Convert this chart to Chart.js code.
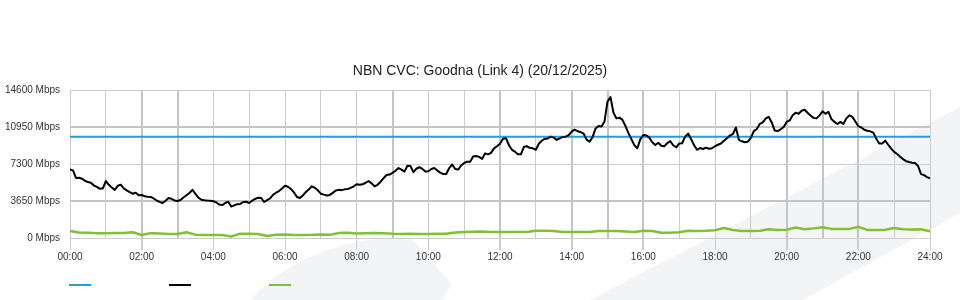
<!DOCTYPE html>
<html>
<head>
<meta charset="utf-8">
<title>NBN CVC: Goodna (Link 4)</title>
<script src="https://cdn.jsdelivr.net/npm/chart.js@4.4.1/dist/chart.umd.min.js"></script>
<style>
  html, body { margin: 0; padding: 0; background: #fff; }
  #wrap { width: 960px; height: 300px; }
</style>
</head>
<body>
<div id="wrap"><canvas id="myChart" width="960" height="300"></canvas></div>
<script>
// traffic sampled every 5 minutes, green series every 15 minutes (Mbps)
const stepTraffic = 5;
const stepGreen = 15;
const capacityMbps = 10000;
const yTicks = [0, 3650, 7300, 10950, 14600];
const hourLabels = ['00:00', '02:00', '04:00', '06:00', '08:00', '10:00', '12:00',
  '14:00', '16:00', '18:00', '20:00', '22:00', '24:00'];

const traffic = [
  6750, 6670, 5920, 5950, 5850, 5650, 5520, 5450, 5180, 5050,
  4850, 4900, 5620, 5250, 4980, 4750, 5150, 5260, 4900, 4700,
  4520, 4370, 4470, 4220, 4250, 4120, 4080, 4050, 3900, 3700,
  3560, 3450, 3680, 3950, 3870, 3700, 3650, 3750, 4000, 4220,
  4440, 4750, 4350, 3980, 3770, 3730, 3700, 3680, 3630, 3500,
  3300, 3250, 3450, 3580, 3100, 3220, 3340, 3360, 3550, 3580,
  3450, 3680, 3850, 3980, 3950, 3550, 3730, 3900, 4250, 4470,
  4630, 4880, 5150, 5050, 4830, 4500, 4050, 3950, 4200, 4540,
  4800, 5100, 4950, 4700, 4370, 4280, 4200, 4250, 4450, 4680,
  4750, 4720, 4800, 4830, 4950, 5100, 5300, 5250, 5300, 5450,
  5620, 5390, 5100, 5250, 5550, 5900, 6210, 6260, 6420, 6640,
  6900, 6750, 6550, 7130, 7100, 6500, 6830, 6980, 6820, 6550,
  6580, 6800, 6900, 6650, 6450, 6310, 6310, 6900, 7250, 6800,
  6750, 7150, 7400, 7530, 7530, 8040, 8090, 8000, 7800, 8350,
  8250, 8400, 8840, 9050, 9300, 9800, 9850, 9150, 8700, 8520,
  8250, 8250, 9000, 9050, 8900, 8850, 8700, 9300, 9600, 9770,
  9820, 10000, 9900, 9680, 9830, 9970, 10000, 10150, 10500, 10700,
  10530, 10450, 10300, 9700, 9500, 9950, 10810, 11050, 11000, 11500,
  13450, 13900, 12350, 11800, 11870, 11650, 11050, 10350, 9750, 9150,
  8850, 9750, 10160, 10120, 9900, 9450, 9170, 9400, 9100, 9050,
  9350, 9560, 9150, 8950, 9320, 9350, 10000, 10300, 9750, 9150,
  8700, 8880, 8780, 8920, 8800, 8850, 9050, 9200, 9320, 9600,
  9850, 10100, 10260, 10900, 9680, 9540, 9450, 9500, 9870, 10550,
  10750, 11250, 11400, 11800, 11950, 11400, 10600, 10550, 10720, 10950,
  11450, 11600, 12100, 12350, 12250, 12550, 12650, 12350, 12080, 11850,
  11800, 12100, 12500, 12250, 12450, 11730, 11450, 11250, 11450, 11240,
  11800, 12100, 11950, 11500, 11030, 10900, 10680, 10580, 10520, 10400,
  9800, 9330, 9330, 9600, 9200, 8820, 8500, 8280, 8020, 7780,
  7580, 7500, 7430, 7400, 7100, 6300, 6200, 6000, 5880
];

const green = [
  690, 540, 520, 480, 460, 500, 500, 560, 300, 480,
  450, 400, 400, 560, 330, 300, 300, 300, 150, 430,
  430, 400, 200, 330, 350, 300, 300, 310, 350, 310,
  500, 520, 440, 480, 490, 470, 420, 400, 410, 400,
  400, 410, 420, 540, 580, 610, 630, 600, 590, 590,
  590, 600, 720, 720, 700, 590, 590, 590, 600, 690,
  680, 690, 650, 590, 720, 690, 520, 520, 560, 720,
  700, 720, 760, 980, 780, 690, 690, 720, 870, 790,
  820, 1030, 860, 950, 1050, 900, 890, 900, 1100, 800,
  790, 820, 990, 860, 850, 870, 660
];

const colors = { capacity: '#1ba1e2', traffic: '#000000', green: '#7fc132' };
const lightGrid = '#cccccc';
const heavyGrid = '#c4c4c4';
const heavyHours = [2, 3, 9, 12, 14, 15, 16, 20, 21, 22];
const heavyValues = [3650, 10950];
const fontFamily = '"Liberation Sans", Arial, Helvetica, sans-serif';

function toPoints(values, stepMinutes) {
  return values.map((v, i) => ({ x: i * stepMinutes / 60, y: v }));
}

function hourLabel(value) {
  if (value % 2 !== 0) return '';
  return hourLabels[value / 2];
}

// faint watermark shapes behind the plot
const backdrop = {
  id: 'backdrop',
  beforeDraw(chart) {
    const c = chart.ctx;
    c.save();
    c.fillStyle = '#ffffff';
    c.fillRect(0, 0, chart.width, chart.height);
    c.fillStyle = '#f3f4f6';
    c.beginPath();
    c.moveTo(250, 300);
    c.quadraticCurveTo(300, 246, 385, 238);
    c.lineTo(412, 239);
    c.lineTo(452, 284);
    c.lineTo(442, 300);
    c.closePath();
    c.fill();
    c.beginPath();
    c.moveTo(590, 300);
    c.lineTo(960, 107);
    c.lineTo(960, 213);
    c.lineTo(803, 300);
    c.closePath();
    c.fill();
    c.restore();
  }
};

// legend: coloured swatches only, no text
const swatches = {
  id: 'swatches',
  afterDraw(chart) {
    const c = chart.ctx;
    c.save();
    ['capacity', 'traffic', 'green'].forEach((key, i) => {
      c.fillStyle = colors[key];
      c.fillRect(69 + i * 100, 284, 22, 2);
    });
    c.restore();
  }
};

const ctx = document.getElementById('myChart').getContext('2d');
new Chart(ctx, {
  type: 'line',
  data: {
    datasets: [
      {
        label: '',
        data: [{ x: 0, y: capacityMbps }, { x: 24, y: capacityMbps }],
        borderColor: colors.capacity,
        backgroundColor: colors.capacity,
        borderWidth: 2,
        order: 1
      },
      {
        label: '',
        data: toPoints(traffic, stepTraffic),
        borderColor: colors.traffic,
        backgroundColor: colors.traffic,
        borderWidth: 2,
        order: 0
      },
      {
        label: '',
        data: toPoints(green, stepGreen),
        borderColor: colors.green,
        backgroundColor: colors.green,
        borderWidth: 2.5,
        order: 2
      }
    ]
  },
  options: {
    responsive: false,
    animation: false,
    layout: { padding: 0 },
    elements: {
      point: { radius: 0, hoverRadius: 0 },
      line: { tension: 0, fill: false, borderJoinStyle: 'round' }
    },
    scales: {
      x: {
        type: 'linear',
        min: 0,
        max: 24,
        afterFit: (scale) => { scale.height = 62; },
        border: { display: false },
        grid: {
          color: (c) => (c.tick && heavyHours.includes(c.tick.value)) ? heavyGrid : lightGrid,
          lineWidth: (c) => (c.tick && heavyHours.includes(c.tick.value)) ? 2 : 1,
          tickColor: (c) => (c.tick && c.tick.value % 2 === 0) ? lightGrid : 'rgba(0,0,0,0)',
          tickLength: 12
        },
        ticks: {
          stepSize: 1,
          autoSkip: false,
          maxRotation: 0,
          padding: 1,
          color: '#333',
          font: { family: fontFamily, size: 10 },
          callback: (value) => hourLabel(value)
        }
      },
      y: {
        min: 0,
        max: yTicks[yTicks.length - 1],
        afterFit: (scale) => { scale.width = 70; },
        afterBuildTicks: (scale) => { scale.ticks = yTicks.map(v => ({ value: v })); },
        border: { display: false },
        grid: {
          drawTicks: false,
          color: (c) => (c.tick && heavyValues.includes(c.tick.value)) ? heavyGrid : lightGrid,
          lineWidth: (c) => (c.tick && heavyValues.includes(c.tick.value)) ? 2 : 1
        },
        ticks: {
          padding: 10,
          color: '#333',
          font: { family: fontFamily, size: 10 },
          callback: (value) => value + ' Mbps'
        }
      },
      // empty right-hand margin so the title stays centred on the page
      yRight: {
        position: 'right',
        min: 0,
        max: yTicks[yTicks.length - 1],
        afterFit: (scale) => { scale.width = 30; },
        border: { display: false },
        grid: { display: false },
        ticks: { display: false }
      }
    },
    plugins: {
      legend: { display: false },
      tooltip: { enabled: false },
      title: {
        display: true,
        text: 'NBN CVC: Goodna (Link 4) (20/12/2025)',
        color: '#222',
        font: { family: fontFamily, size: 14, weight: 'normal', lineHeight: 1.2 },
        padding: { top: 62.6, bottom: 10.6 }
      }
    }
  },
  plugins: [backdrop, swatches]
});
</script>
</body>
</html>
